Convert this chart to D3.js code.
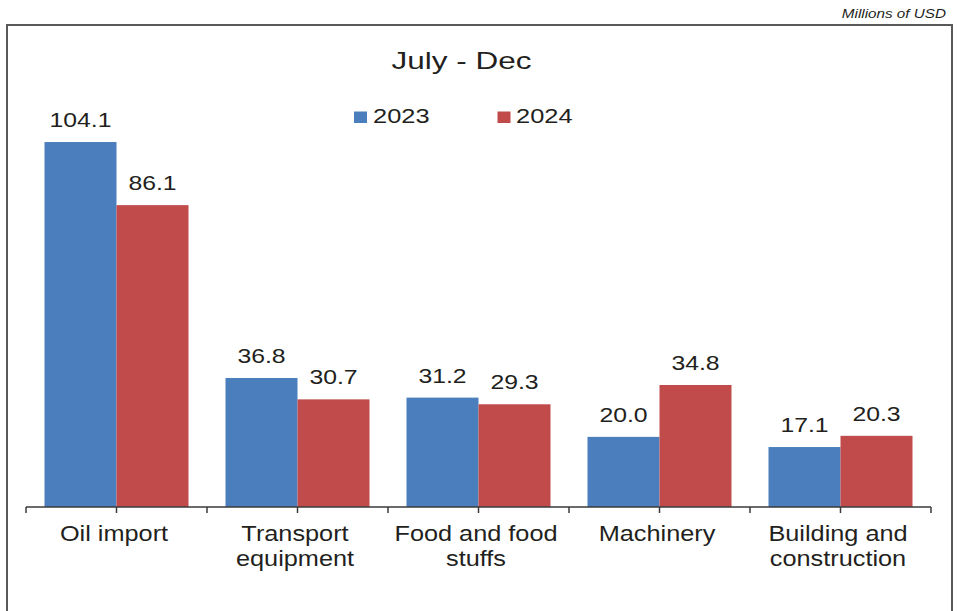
<!DOCTYPE html>
<html>
<head>
<meta charset="utf-8">
<script src="https://cdn.jsdelivr.net/npm/d3@7/dist/d3.min.js"></script>
<style>
  html, body { margin: 0; padding: 0; background: #fff; }
  svg { display: block; font-family: "Liberation Sans", Arial, Helvetica, sans-serif; }
</style>
</head>
<body>
<svg id="chart" width="957" height="611"></svg>
<script>
// Import values, July - Dec, millions of USD
const categories = [
  ["Oil import"],
  ["Transport", "equipment"],
  ["Food and food", "stuffs"],
  ["Machinery"],
  ["Building and", "construction"]
];
const seriesNames = ["2023", "2024"];
const values2023 = [104.1, 36.8, 31.2, 20.0, 17.1];
const values2024 = [86.1, 30.7, 29.3, 34.8, 20.3];
const valueLabels2023 = ["104.1", "36.8", "31.2", "20.0", "17.1"];
const valueLabels2024 = ["86.1", "30.7", "29.3", "34.8", "20.3"];

const colors = { "2023": "#4A7EBD", "2024": "#C04B4A" };
const textColor = "#231f20";

const svg = d3.select("#chart");

// Frame around the chart area
svg.append("rect")
  .attr("x", 7).attr("y", 25)
  .attr("width", 945).attr("height", 620)
  .attr("fill", "none")
  .attr("stroke", "#595959")
  .attr("stroke-width", 2);

// Text helper: horizontally widened glyphs anchored at (x, y)
function label(x, y, str, size, sx, anchor, extra) {
  const t = svg.append("text")
    .attr("transform", `translate(${x},${y}) scale(${sx},1)`)
    .attr("text-anchor", anchor)
    .attr("font-size", size)
    .attr("fill", textColor)
    .text(str);
  if (extra) extra(t);
  return t;
}

label(946, 18.3, "Millions of USD", 12.5, 1.22, "end", t => t.attr("font-style", "italic"));
label(461.5, 68.5, "July - Dec", 23.5, 1.34, "middle");

// Scales
const baseY = 507;
const names = categories.map(c => c.join(" "));
const x = d3.scaleBand().domain(names).range([26, 931]).padding(0);
const xInner = d3.scaleBand().domain(seriesNames).range([18.5, 162.5]).padding(0);
const y = d3.scaleLinear().domain([0, 120]).range([baseY, baseY - 120 * 3.506]);

const rows = names.map((n, i) => ({
  name: n,
  lines: categories[i],
  vals: [
    { s: "2023", v: values2023[i], lab: valueLabels2023[i] },
    { s: "2024", v: values2024[i], lab: valueLabels2024[i] }
  ]
}));

const groups = svg.append("g").selectAll("g")
  .data(rows).join("g")
  .attr("transform", d => `translate(${x(d.name)},0)`);

groups.selectAll("rect")
  .data(d => d.vals).join("rect")
  .attr("x", d => xInner(d.s))
  .attr("y", d => y(d.v))
  .attr("width", xInner.bandwidth())
  .attr("height", d => y(0) - y(d.v))
  .attr("fill", d => colors[d.s]);

// Value labels above each bar
rows.forEach(r => {
  r.vals.forEach(d => {
    label(x(r.name) + xInner(d.s) + xInner.bandwidth() / 2, y(d.v) - 15, d.lab, 21, 1.18, "middle");
  });
});

// Category axis: baseline with ticks at band edges and band centres
const axis = svg.append("g").attr("stroke", "#3a3a3a").attr("stroke-width", 1.5);
axis.append("line")
  .attr("x1", x.range()[0]).attr("x2", x.range()[1])
  .attr("y1", baseY).attr("y2", baseY);
const tickXs = [];
names.forEach(n => { tickXs.push(x(n)); tickXs.push(x(n) + x.bandwidth() / 2); });
tickXs.push(x.range()[1]);
axis.selectAll("line.tick").data(tickXs).join("line")
  .attr("class", "tick")
  .attr("x1", d => d).attr("x2", d => d)
  .attr("y1", baseY).attr("y2", baseY + 6);

// Category names, one or two lines
rows.forEach(r => {
  r.lines.forEach((ln, k) => {
    label(x(r.name) + x.bandwidth() / 2 - 2.5, 541 + k * 24.5, ln, 22, 1.15, "middle");
  });
});

// Legend
const legendItems = [
  { s: "2023", sx: 354, tx: 373 },
  { s: "2024", sx: 497.5, tx: 516 }
];
legendItems.forEach(it => {
  svg.append("rect")
    .attr("x", it.sx).attr("y", 111.5)
    .attr("width", 13).attr("height", 11.5)
    .attr("fill", colors[it.s]);
  label(it.tx, 123.3, it.s, 20, 1.27, "start");
});
</script>
</body>
</html>
